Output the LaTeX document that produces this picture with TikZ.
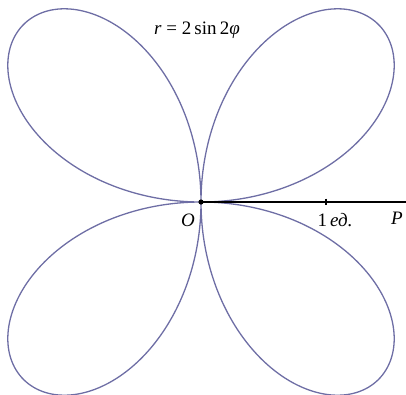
\documentclass[tikz,border=0pt]{standalone}
\usepackage{fontspec}
\setmainfont{Liberation Serif}
\definecolor{curvecol}{RGB}{110,110,165}
\begin{document}
\begin{tikzpicture}[x=1pt,y=1pt,
  rose/.style={draw=curvecol,line width=1.3pt},
  axis/.style={draw=black,line width=1.2pt},
  lbl/.style={font=\fontsize{19}{22}\selectfont,inner sep=0pt}]
\useasboundingbox (0,0) rectangle (406,-394);
\def\U{125.5}
\coordinate (O) at (201,-202);
\coordinate (End) at (406,-202);
\coordinate (T1) at (326,-198.5);
\coordinate (T2) at (326,-205);
\draw[rose] plot[domain=0:360,samples=500,smooth,variable=\t]
  ({201+2*\U*sin(2*\t)*cos(\t)},{-202+2*\U*sin(2*\t)*sin(\t)});
\draw[axis] (O) -- (End);
\draw[line width=1.2pt] (T1) -- (T2);
\fill (O) circle (2.6pt);
\node[lbl] (Olab) at (188,-220) {\itshape O};
\node[lbl] (unit) at (335,-220) {1\,\itshape ед.};
\node[lbl] (P) at (397,-218) {\itshape P};
\node[lbl] (title) at (197,-30) {{\itshape r} = 2\,sin\,2{\itshape φ}};
\end{tikzpicture}
\end{document}
